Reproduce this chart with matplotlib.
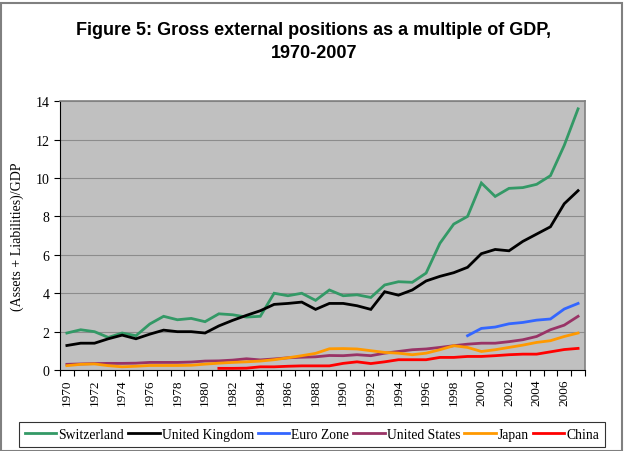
import numpy as np
import matplotlib
matplotlib.use("Agg")
import matplotlib.pyplot as plt
from matplotlib.patches import Rectangle

# === Data ===
years = list(range(1970, 2008))

switzerland = [1.93, 2.10, 2.00, 1.70, 1.93, 1.79, 2.40, 2.80, 2.62, 2.69,
               2.52, 2.93, 2.88, 2.76, 2.80, 4.00, 3.87, 4.00, 3.63, 4.17,
               3.87, 3.92, 3.78, 4.43, 4.60, 4.57, 5.05, 6.60, 7.60, 8.00,
               9.74, 9.04, 9.46, 9.50, 9.67, 10.12, 11.70, 13.60]
united_kingdom = [1.28, 1.40, 1.40, 1.63, 1.82, 1.63, 1.87, 2.08, 2.00, 2.00,
                  1.93, 2.30, 2.59, 2.85, 3.09, 3.42, 3.47, 3.54, 3.16, 3.47,
                  3.47, 3.35, 3.16, 4.08, 3.90, 4.17, 4.64, 4.88, 5.07, 5.35,
                  6.06, 6.28, 6.21, 6.70, 7.08, 7.46, 8.66, 9.34]
euro_years = list(range(1999, 2008))
euro_zone = [1.79, 2.17, 2.24, 2.41, 2.48, 2.60, 2.66, 3.18, 3.47]
united_states = [0.30, 0.32, 0.34, 0.35, 0.35, 0.36, 0.40, 0.40, 0.40, 0.42,
                 0.47, 0.48, 0.52, 0.59, 0.53, 0.58, 0.64, 0.67, 0.69, 0.76,
                 0.75, 0.80, 0.75, 0.88, 0.97, 1.06, 1.10, 1.18, 1.27, 1.35,
                 1.40, 1.40, 1.48, 1.58, 1.75, 2.10, 2.34, 2.80]
japan = [0.23, 0.30, 0.32, 0.23, 0.17, 0.20, 0.24, 0.24, 0.24, 0.25,
         0.31, 0.36, 0.40, 0.43, 0.47, 0.54, 0.64, 0.75, 0.87, 1.11,
         1.12, 1.10, 1.01, 0.92, 0.88, 0.80, 0.88, 1.06, 1.27, 1.18,
         0.97, 1.06, 1.18, 1.30, 1.44, 1.53, 1.75, 1.93]
china_years = list(range(1981, 2008))
china = [0.09, 0.09, 0.10, 0.17, 0.17, 0.20, 0.22, 0.22, 0.22, 0.35,
         0.43, 0.34, 0.43, 0.54, 0.54, 0.54, 0.66, 0.66, 0.71, 0.71,
         0.75, 0.80, 0.83, 0.83, 0.95, 1.07, 1.13]

series = [
    ("Switzerland", years, switzerland, "#339966"),
    ("United Kingdom", years, united_kingdom, "#000000"),
    ("Euro Zone", euro_years, euro_zone, "#3366FF"),
    ("United States", years, united_states, "#993366"),
    ("Japan", years, japan, "#FF9900"),
    ("China", china_years, china, "#FF0000"),
]

serif = ["Liberation Serif", "DejaVu Serif"]

fig = plt.figure(figsize=(6.28, 4.52), dpi=100)
ax = fig.add_axes([0.0955, 0.179, 0.836, 0.595])
ax.set_facecolor("#C0C0C0")

# categories on an index axis like the original spreadsheet chart
for name, yrs, vals, col in series:
    idx = [y - years[0] for y in yrs]
    ax.plot(idx, vals, color=col, lw=2, label=name, solid_joinstyle="miter")

ax.set_xlim(-0.5, len(years) - 0.5)
ax.set_ylim(0, 14)
ax.set_yticks(np.arange(0, 15, 2))
ax.yaxis.grid(True, color="#8c8c8c", lw=0.8)
ax.set_axisbelow(True)

# ticks between categories, labels on every second year
ax.set_xticks(np.arange(-0.5, len(years), 1.0))
ax.set_xticklabels([])
ax.set_xticks(np.arange(0, len(years), 2), minor=True)
ax.set_xticklabels([str(y) for y in years[::2]], minor=True, rotation=90,
                   family=serif, fontsize=9.5)
ax.tick_params(axis="x", which="major", length=4, width=0.8, direction="out")
ax.tick_params(axis="x", which="minor", length=0, pad=6)
ax.tick_params(axis="y", length=4, width=0.8, labelsize=10)
for lab in ax.get_yticklabels():
    lab.set_family(serif)

for side in ["top", "right"]:
    ax.spines[side].set_color("#808080")
    ax.spines[side].set_linewidth(1.2)
for side in ["left", "bottom"]:
    ax.spines[side].set_color("#000000")
    ax.spines[side].set_linewidth(0.8)

ax.set_ylabel("(Assets + Liabilities)/GDP", family=serif, fontsize=10, labelpad=8)

fig.text(0.5, 0.907, "Figure 5: Gross external positions as a multiple of GDP,\n1970-2007",
         ha="center", va="center", fontsize=13, fontweight="bold",
         family=["Liberation Sans", "DejaVu Sans"], linespacing=1.42)

leg = fig.legend(loc="center", bbox_to_anchor=(0.497, 0.0365), ncol=6,
                 frameon=True, fancybox=False, borderpad=0.45, borderaxespad=0,
                 handlelength=2.3, handletextpad=0.15, columnspacing=0.3,
                 prop={"family": serif, "size": 9.8})
leg.get_frame().set_edgecolor("#000000")
leg.get_frame().set_linewidth(0.8)

# outer chart border
fig.patches.append(Rectangle((0.002, 0.0), 0.988, 0.991, transform=fig.transFigure,
                             fill=False, edgecolor="#808080", lw=1.5))

fig.savefig("out.png", dpi=100)
